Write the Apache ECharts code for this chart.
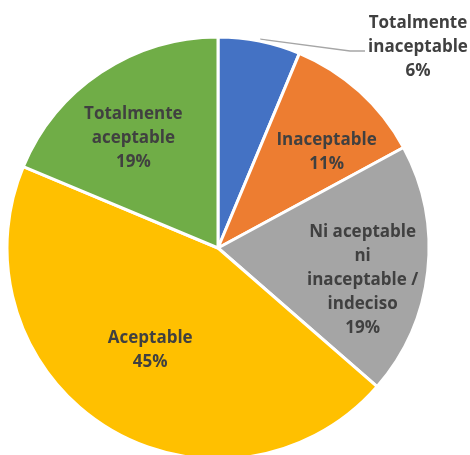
<!DOCTYPE html>
<html>
<head>
<meta charset="utf-8">
<style>
  html, body { margin: 0; padding: 0; background: #fff; }
  #chart { width: 470px; height: 455px; }
</style>
<script src="https://cdn.jsdelivr.net/npm/echarts@6/dist/echarts.min.js"></script>
</head>
<body>
<div id="chart"></div>
<script>
  // slice data, clockwise from 12 o'clock
  const categories = [
    'Totalmente\ninaceptable',
    'Inaceptable',
    'Ni aceptable\nni\ninaceptable /\nindeciso',
    'Aceptable',
    'Totalmente\naceptable'
  ];
  const values = [6.3, 10.8, 19.3, 44.9, 18.7];
  const colors = ['#4472C4', '#ED7D31', '#A5A5A5', '#FFC000', '#70AD47'];

  const center = [218, 248];
  const radius = 211;
  // small nudges so the inside labels sit where the original ones do
  const labelNudge = [[0, 0], [11, 12], [0, 16], [9, -21], [-4, 11]];

  const textStyle = {
    color: '#404040',
    fontFamily: 'Open Sans',
    fontWeight: 'bold',
    fontSize: 17,
    lineHeight: 24
  };
  const fmt = (p) => p.name + '\n' + Math.round(p.percent) + '%';

  const chart = echarts.init(document.getElementById('chart'), null, { renderer: 'canvas' });

  const slices = categories.map((name, i) => ({
    name: name,
    value: values[i],
    itemStyle: { color: colors[i] },
    // only the small first slice gets an outside label
    label: { show: i === 0 },
    labelLine: { show: i === 0 }
  }));

  // transparent ring, only used to push the inside labels further out
  const labelRing = categories.map((name, i) => ({
    name: name,
    value: values[i],
    label: { show: i !== 0, offset: labelNudge[i] }
  }));

  chart.setOption({
    animation: false,
    series: [
      {
        type: 'pie',
        center: center,
        radius: radius,
        startAngle: 90,
        silent: true,
        data: slices,
        itemStyle: { borderColor: '#fff', borderWidth: 3 },
        label: Object.assign({ position: 'outside', formatter: fmt, align: 'center' }, textStyle),
        labelLine: { lineStyle: { color: '#A6A6A6', width: 1.3 } },
        labelLayout: (params) => {
          if (params.dataIndex !== 0) return {};
          // leader line leaves the outer arc a little right of the slice middle
          const a = 11.4 * Math.PI / 180;
          const r = radius + 2;
          const start = [center[0] + r * Math.sin(a), center[1] - r * Math.cos(a)];
          return {
            x: 418,
            y: 47.5,
            align: 'center',
            verticalAlign: 'middle',
            labelLinePoints: [start, [350, 51], [365, 51]]
          };
        }
      },
      {
        type: 'pie',
        center: center,
        radius: [74, radius],
        startAngle: 90,
        silent: true,
        data: labelRing,
        itemStyle: { color: 'rgba(0,0,0,0)' },
        label: Object.assign({ position: 'inside', formatter: fmt, align: 'center' }, textStyle),
        labelLine: { show: false }
      }
    ]
  });
</script>
</body>
</html>
